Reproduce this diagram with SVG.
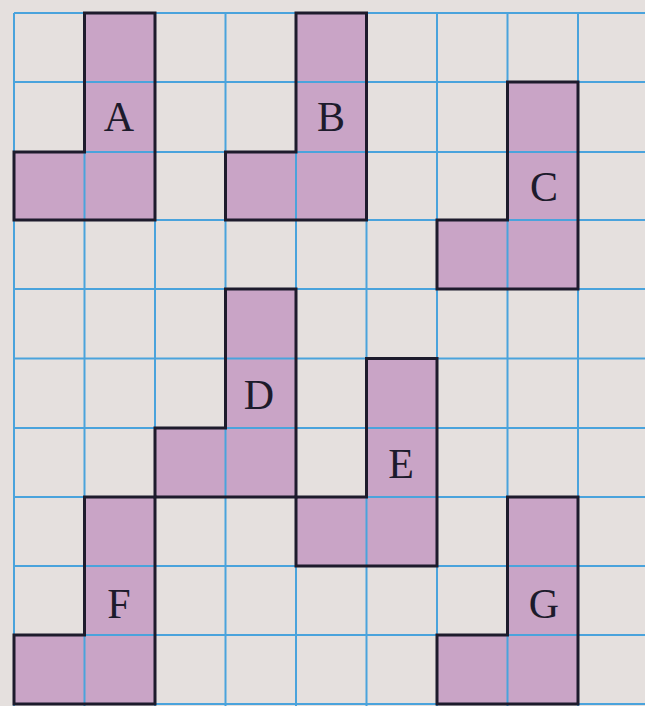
<svg xmlns="http://www.w3.org/2000/svg" width="645" height="706" viewBox="0 0 645 706">
<style>
.bg{fill:#e5e0de}
.grid line{stroke:#4aa3dc;stroke-width:2}
.shape path{fill:#c9a4c6;stroke:none}
.outline{fill:none;stroke:#1d1b2c;stroke-width:3;stroke-linejoin:miter}
.inner line{stroke:#4aa3dc;stroke-width:2}
.lbl{font-family:"Liberation Serif","Times New Roman",serif;font-size:42px;fill:#1d1b2c;text-anchor:middle}
</style>
<rect class="bg" x="0" y="0" width="645" height="706"/>
<g id="fills" class="shape">
<path d="M84.5 13H155V220H14V152H84.5Z"/>
<path d="M296 13H366.5V220H225.5V152H296Z"/>
<path d="M507.5 82H578V289H437V220H507.5Z"/>
<path d="M225.5 289H296V497H155V428H225.5Z"/>
<path d="M366.5 358.5H437V566H296V497H366.5Z"/>
<path d="M84.5 497H155V704H14V635H84.5Z"/>
<path d="M507.5 497H578V704H437V635H507.5Z"/>
</g>
<g id="grid" class="grid">
<line x1="14" y1="13" x2="14" y2="706"/>
<line x1="84.5" y1="13" x2="84.5" y2="706"/>
<line x1="155" y1="13" x2="155" y2="706"/>
<line x1="225.5" y1="13" x2="225.5" y2="706"/>
<line x1="296" y1="13" x2="296" y2="706"/>
<line x1="366.5" y1="13" x2="366.5" y2="706"/>
<line x1="437" y1="13" x2="437" y2="706"/>
<line x1="507.5" y1="13" x2="507.5" y2="706"/>
<line x1="578" y1="13" x2="578" y2="706"/>
<line x1="14" y1="13" x2="645" y2="13"/>
<line x1="14" y1="82" x2="645" y2="82"/>
<line x1="14" y1="152" x2="645" y2="152"/>
<line x1="14" y1="220" x2="645" y2="220"/>
<line x1="14" y1="289" x2="645" y2="289"/>
<line x1="14" y1="358.5" x2="645" y2="358.5"/>
<line x1="14" y1="428" x2="645" y2="428"/>
<line x1="14" y1="497" x2="645" y2="497"/>
<line x1="14" y1="566" x2="645" y2="566"/>
<line x1="14" y1="635" x2="645" y2="635"/>
<line x1="14" y1="704" x2="645" y2="704"/>
</g>
<g id="A"><path class="outline" d="M84.5 13H155V220H14V152H84.5Z"/><text class="lbl" x="119" y="131">A</text></g>
<g id="B"><path class="outline" d="M296 13H366.5V220H225.5V152H296Z"/><text class="lbl" x="331" y="131">B</text></g>
<g id="C"><path class="outline" d="M507.5 82H578V289H437V220H507.5Z"/><text class="lbl" x="544" y="201">C</text></g>
<g id="D"><path class="outline" d="M225.5 289H296V497H155V428H225.5Z"/><text class="lbl" x="259" y="409">D</text></g>
<g id="E"><path class="outline" d="M366.5 358.5H437V566H296V497H366.5Z"/><text class="lbl" x="401" y="478">E</text></g>
<g id="F"><path class="outline" d="M84.5 497H155V704H14V635H84.5Z"/><text class="lbl" x="119" y="618">F</text></g>
<g id="G"><path class="outline" d="M507.5 497H578V704H437V635H507.5Z"/><text class="lbl" x="544" y="618">G</text></g>
<g id="connectors"/>
</svg>
